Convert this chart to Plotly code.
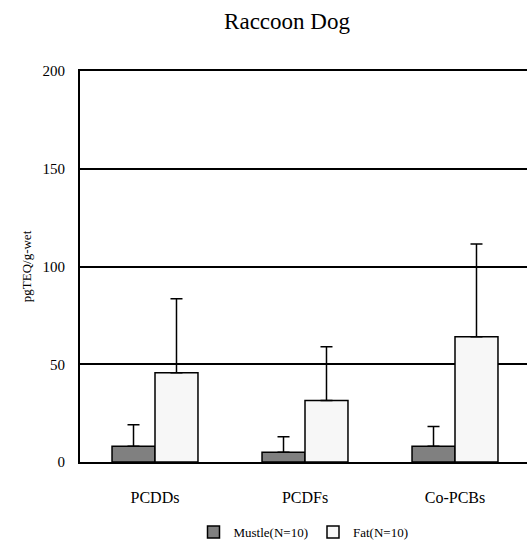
import plotly.graph_objects as go

categories = ["PCDDs", "PCDFs", "Co-PCBs"]
mustle_vals = [8.0, 5.0, 8.0]
mustle_err = [11.1, 7.9, 10.1]
fat_vals = [45.7, 31.4, 64.1]
fat_err = [37.8, 27.6, 47.4]
y_ticks = [0, 50, 100, 150, 200]

FONT = "Liberation Serif"

fig = go.Figure()
fig.add_trace(go.Bar(
    x=categories, y=mustle_vals, name="Mustle(N=10)",
    marker=dict(color="#808080", line=dict(color="black", width=1.5)),
    error_y=dict(type="data", array=mustle_err, arrayminus=[0]*3, symmetric=False,
                 color="black", thickness=1.5, width=6),
))
fig.add_trace(go.Bar(
    x=categories, y=fat_vals, name="Fat(N=10)",
    marker=dict(color="#f7f7f7", line=dict(color="black", width=1.5)),
    error_y=dict(type="data", array=fat_err, arrayminus=[0]*3, symmetric=False,
                 color="black", thickness=1.5, width=6),
))

fig.update_layout(
    width=527, height=547,
    margin=dict(l=80, r=0, t=71, b=84),
    paper_bgcolor="white", plot_bgcolor="white",
    barmode="group", bargap=0.427, bargroupgap=0,
    font=dict(family=FONT, color="black", size=13),
    title=dict(text="Raccoon Dog", x=287/527, xanchor="center", xref="container",
               y=1-21/547, yanchor="middle", yref="container",
               font=dict(size=23, family=FONT, color="black")),
    legend=dict(orientation="h", x=0.5, xanchor="center", y=-0.179, yanchor="middle",
                font=dict(size=13, family=FONT), itemwidth=30, traceorder="normal"),
    showlegend=True,
)
fig.update_xaxes(
    range=[-0.5, 2.48], showline=True, linecolor="black", linewidth=2, mirror=True,
    showgrid=False, ticks="", tickfont=dict(size=16, family=FONT),
    ticklabelstandoff=20, zeroline=False, fixedrange=True,
)
fig.update_yaxes(
    range=[0, 200], tickvals=y_ticks, showline=True, linecolor="black", linewidth=2,
    showgrid=True, gridcolor="black", gridwidth=1.5, zeroline=False,
    ticks="", tickfont=dict(size=15, family=FONT), ticklabelstandoff=10,
    title=dict(text="pgTEQ/g-wet", font=dict(size=13, family=FONT), standoff=8),
    automargin=False, fixedrange=True,
)

fig.write_html("out.html")
